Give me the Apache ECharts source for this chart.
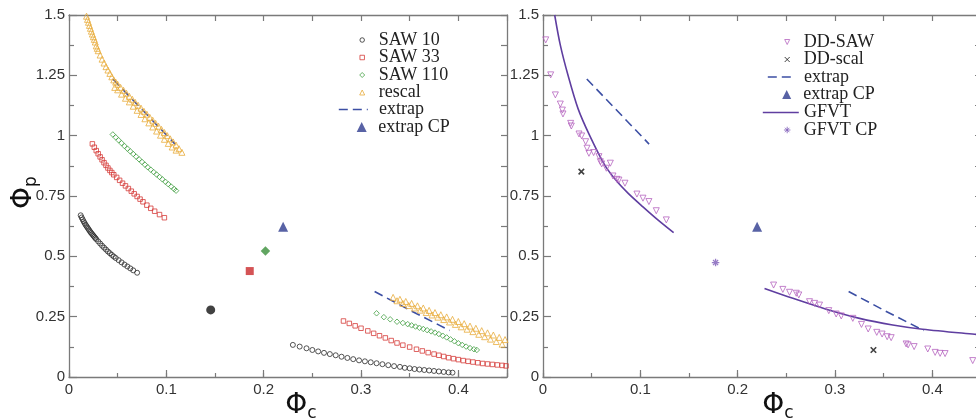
<!DOCTYPE html>
<html><head><meta charset="utf-8">
<script src="https://cdn.jsdelivr.net/npm/echarts@6/dist/echarts.min.js"></script>
<style>html,body{margin:0;padding:0;background:#fff}#c{width:976px;height:419px}</style>
</head><body><div id="c"></div>
<script>
// ---------------- data ----------------
const xTickLabels = ['0', '0.1', '0.2', '0.3', '0.4'];
const yTickLabels = ['0', '0.25', '0.5', '0.75', '1', '1.25', '1.5'];

const saw10A = [[0.012,0.670],[0.013,0.661],[0.014,0.653],[0.015,0.645],[0.016,0.638],[0.017,0.631],[0.018,0.625],[0.019,0.619],[0.020,0.613],[0.021,0.607],[0.022,0.601],[0.023,0.596],[0.024,0.591],[0.025,0.586],[0.026,0.581],[0.027,0.576],[0.028,0.571],[0.030,0.562],[0.032,0.553],[0.034,0.544],[0.036,0.536],[0.038,0.528],[0.040,0.520],[0.042,0.513],[0.044,0.506],[0.046,0.499],[0.048,0.493],[0.051,0.484],[0.054,0.475],[0.057,0.466],[0.060,0.458],[0.063,0.450],[0.066,0.442],[0.070,0.432]];
const saw10B = [[0.230,0.133],[0.237,0.126],[0.244,0.119],[0.250,0.112],[0.256,0.106],[0.262,0.100],[0.268,0.095],[0.274,0.090],[0.280,0.084],[0.286,0.079],[0.292,0.074],[0.298,0.069],[0.304,0.065],[0.310,0.061],[0.316,0.057],[0.322,0.053],[0.328,0.049],[0.334,0.045],[0.340,0.042],[0.345,0.038],[0.350,0.036],[0.355,0.033],[0.360,0.031],[0.365,0.029],[0.370,0.027],[0.375,0.025],[0.380,0.023],[0.385,0.021],[0.390,0.019],[0.394,0.018]];
const saw33A = [[0.024,0.966],[0.026,0.952],[0.028,0.938],[0.030,0.925],[0.032,0.912],[0.034,0.900],[0.036,0.888],[0.038,0.877],[0.040,0.866],[0.042,0.856],[0.044,0.847],[0.046,0.838],[0.049,0.827],[0.052,0.815],[0.055,0.803],[0.058,0.792],[0.061,0.781],[0.064,0.770],[0.067,0.759],[0.070,0.748],[0.073,0.737],[0.076,0.726],[0.080,0.712],[0.084,0.699],[0.088,0.687],[0.093,0.673],[0.098,0.660]];
const saw33B = [[0.282,0.232],[0.288,0.222],[0.294,0.212],[0.300,0.202],[0.307,0.191],[0.313,0.181],[0.319,0.171],[0.325,0.162],[0.331,0.151],[0.337,0.141],[0.343,0.132],[0.350,0.124],[0.357,0.115],[0.363,0.108],[0.369,0.101],[0.375,0.095],[0.380,0.090],[0.385,0.085],[0.390,0.080],[0.395,0.076],[0.400,0.072],[0.405,0.068],[0.410,0.065],[0.415,0.062],[0.420,0.059],[0.425,0.056],[0.430,0.054],[0.435,0.052],[0.440,0.050],[0.445,0.048],[0.449,0.046]];
const saw110A = [[0.045,1.005],[0.048,0.993],[0.051,0.981],[0.054,0.969],[0.057,0.957],[0.060,0.946],[0.063,0.935],[0.066,0.924],[0.069,0.913],[0.072,0.902],[0.075,0.891],[0.078,0.880],[0.081,0.869],[0.084,0.859],[0.087,0.849],[0.090,0.839],[0.093,0.829],[0.096,0.819],[0.099,0.809],[0.102,0.799],[0.105,0.789],[0.108,0.779],[0.110,0.772]];
const saw110B = [[0.316,0.264],[0.3235,0.248],[0.330,0.239],[0.337,0.229],[0.343,0.224],[0.348,0.219],[0.352,0.214],[0.356,0.209],[0.360,0.204],[0.364,0.199],[0.368,0.194],[0.372,0.189],[0.376,0.184],[0.380,0.178],[0.384,0.171],[0.388,0.164],[0.392,0.156],[0.396,0.148],[0.400,0.140],[0.404,0.133],[0.408,0.126],[0.412,0.120],[0.416,0.115],[0.419,0.112]];
const rescalA = [[0.018,1.495],[0.019,1.482],[0.020,1.470],[0.021,1.457],[0.022,1.445],[0.023,1.433],[0.024,1.421],[0.025,1.410],[0.026,1.399],[0.027,1.388],[0.028,1.372],[0.029,1.362],[0.030,1.352],[0.032,1.334],[0.034,1.317],[0.036,1.301],[0.038,1.286],[0.040,1.272],[0.042,1.258],[0.044,1.244],[0.046,1.231],[0.048,1.222],[0.050,1.213],[0.053,1.200],[0.056,1.188],[0.059,1.176],[0.062,1.163],[0.065,1.151],[0.068,1.138],[0.071,1.126],[0.074,1.114],[0.077,1.101],[0.080,1.089],[0.083,1.076],[0.086,1.064],[0.089,1.051],[0.092,1.039],[0.095,1.026],[0.098,1.013],[0.101,1.000],[0.104,0.987],[0.107,0.974],[0.110,0.961],[0.113,0.946],[0.116,0.931],
  [0.047,1.200],[0.050,1.190],[0.054,1.172],[0.058,1.155],[0.062,1.140],[0.066,1.122],[0.070,1.105],[0.074,1.088],[0.078,1.070],[0.082,1.053],[0.086,1.036],[0.090,1.019],[0.094,1.002],[0.098,0.985],[0.102,0.968],[0.106,0.953],[0.110,0.940]];
const rescalB = [[0.333,0.330],[0.337,0.316],[0.340,0.322],[0.343,0.305],[0.346,0.313],[0.349,0.296],[0.352,0.305],[0.355,0.286],[0.358,0.295],[0.361,0.277],[0.364,0.286],[0.367,0.267],[0.370,0.276],[0.373,0.257],[0.376,0.267],[0.379,0.248],[0.382,0.258],[0.385,0.238],[0.388,0.249],[0.391,0.228],[0.394,0.239],[0.397,0.218],[0.400,0.230],[0.403,0.208],[0.406,0.221],[0.409,0.198],[0.412,0.211],[0.415,0.188],[0.418,0.202],[0.421,0.177],[0.424,0.192],[0.427,0.167],[0.430,0.183],[0.433,0.157],[0.436,0.174],[0.439,0.147],[0.442,0.164],[0.445,0.136],[0.448,0.155]];
const extrapA = [[0.045,1.235],[0.077,1.100],[0.109,0.965]];
const extrapB = [[0.314,0.354],[0.352,0.273],[0.391,0.193]];
const extrapCP = [[0.220,0.623]];
const saw10CP = [[0.1456,0.278]];
const saw33CP = [[0.1857,0.439]];
const saw110CP = [[0.2018,0.522]];

const ddSaw = [[0.0028,1.397],[0.0079,1.252],[0.0127,1.169],[0.0178,1.131],[0.0199,1.106],[0.0205,1.090],[0.0284,1.051],[0.0291,1.040],[0.0370,1.007],[0.0397,0.999],[0.0438,0.975],[0.0452,0.948],[0.0472,0.927],[0.0520,0.930],[0.0575,0.913],[0.0589,0.892],[0.0603,0.883],[0.0651,0.865],[0.0692,0.886],[0.0719,0.833],[0.0760,0.819],[0.0780,0.816],[0.0842,0.803],[0.0965,0.758],[0.1027,0.741],[0.1088,0.727],[0.1164,0.689],[0.1267,0.651],
  [0.2369,0.381],[0.2464,0.363],[0.2533,0.351],[0.2602,0.347],[0.2628,0.340],[0.2738,0.312],[0.2790,0.305],[0.2841,0.298],[0.2936,0.275],[0.3012,0.261],[0.3064,0.253],[0.3183,0.243],[0.3272,0.218],[0.3341,0.199],[0.3429,0.185],[0.3484,0.178],[0.3536,0.167],[0.3577,0.163],[0.3731,0.137],[0.3751,0.133],[0.3813,0.126],[0.3953,0.116],[0.4029,0.102],[0.4080,0.098],[0.4131,0.097],[0.4415,0.068]];
const ddScal = [[0.0394,0.851],[0.3395,0.112]];
const gfvtA = [[0.012,1.500],[0.0178,1.375],[0.0257,1.250],[0.036,1.112],[0.048,1.000],[0.0633,0.879],[0.075,0.815],[0.0873,0.762],[0.1027,0.705],[0.118,0.651],[0.1342,0.598]];
const gfvtB = [[0.2276,0.367],[0.2567,0.326],[0.291,0.281],[0.3252,0.243],[0.3593,0.2155],[0.390,0.198],[0.4435,0.177],[0.450,0.175]];
const gfvtCP = [[0.1773,0.474]];

// ---------------- styling ----------------
const AX = '#7a7a7a';
const C = {saw10:'#2a2a2a', saw33:'#d63c3a', saw110:'#45a045', rescal:'#e9ad3c', extrap:'#3c4fa4', extrapCP:'#2e3b8e', dd:'#b564bf', gfvt:'#5f3ea0', gfvtCP:'#7d5bb8'};
const PATH_X = 'path://M0,0L10,10M10,0L0,10';
const PATH_AST = 'path://M5,0L5,10M0,5L10,5M1.6,1.6L8.4,8.4M8.4,1.6L1.6,8.4';
const PATH_TRI_DOWN = 'path://M0,0L10,0L5,10Z';
const labelFont = {fontFamily:'Liberation Sans', fontSize:15, color:'#333'};
const richName = {
  a:{fontFamily:'DejaVu Sans', fontSize:28, lineHeight:32, color:'#111'},
  b:{fontFamily:'DejaVu Sans', fontSize:17, lineHeight:24, verticalAlign:'bottom', color:'#111'}
};
const fmtX = v => { const r = Math.round(v*10); return Math.abs(v*10-r) < 1e-6 ? xTickLabels[r] : ''; };
const fmtY = v => { const r = Math.round(v*4); return Math.abs(v*4-r) < 1e-6 ? yTickLabels[r] : ''; };

function xAxes(g, namePad){
  const base = {type:'value', gridIndex:g, min:0, max:0.45, splitLine:{show:false},
    axisLine:{show:true, onZero:false, lineStyle:{color:AX, width:1.3}}};
  return [
    Object.assign({}, base, {position:'bottom', interval:0.1,
      axisTick:{inside:true, length:7, lineStyle:{color:AX, width:1.2}},
      axisLabel:Object.assign({margin:5, formatter:fmtX}, labelFont),
      name:'{a|Φ}{b|c}', nameLocation:'middle', nameGap:13, nameMoveOverlap:false,
      nameTextStyle:{padding:[0,0,0,namePad], rich:richName}}),
    Object.assign({}, base, {position:'bottom', interval:0.05, axisLine:{show:false},
      axisTick:{inside:true, length:4, lineStyle:{color:AX, width:1.2}}, axisLabel:{show:false}}),
    Object.assign({}, base, {position:'top', interval:0.05,
      axisTick:{inside:true, length:6, lineStyle:{color:AX, width:1.2}}, axisLabel:{show:false}})
  ];
}
function yAxes(g, withName){
  const base = {type:'value', gridIndex:g, min:0, max:1.5, splitLine:{show:false},
    axisLine:{show:true, onZero:false, lineStyle:{color:AX, width:1.3}}};
  const left = Object.assign({}, base, {position:'left', interval:0.25,
    axisTick:{inside:true, length:8, lineStyle:{color:AX, width:1.2}},
    minorTick:{show:true, splitNumber:2, length:5, lineStyle:{color:AX, width:1.2}},
    axisLabel:Object.assign({margin:4, formatter:fmtY}, labelFont)});
  if (withName) Object.assign(left, {name:'{a|Φ}{b|p}', nameLocation:'middle', nameRotate:90, nameGap:29,
    nameMoveOverlap:false, nameTextStyle:{padding:[0,0,0,7], rich:richName}});
  const right = Object.assign({}, base, {position:'right', interval:0.125,
    axisTick:{inside:true, length:6, lineStyle:{color:AX, width:1.2}}, axisLabel:{show:false}});
  return [left, right];
}

function scatter(name, data, g, symbol, size, color, filled, extra){
  return Object.assign({type:'scatter', name, data, xAxisIndex:g*3, yAxisIndex:g*2, symbol, symbolSize:size,
    itemStyle: filled ? {color, borderWidth:0} : {color:'rgba(0,0,0,0)', borderColor:color, borderWidth:1},
    emphasis:{disabled:true}, z:3}, extra||{});
}
function line(name, data, g, color, dashed, width, extra){
  return Object.assign({type:'line', name, data, xAxisIndex:g*3, yAxisIndex:g*2, symbol:'none', showSymbol:false,
    lineStyle:{color, width, type: dashed ? [9,5] : 'solid'}, itemStyle:{color},
    emphasis:{disabled:true}, z:2}, extra||{});
}

const series = [
  scatter('SAW 10', saw10A.concat(saw10B), 0, 'circle', 5, C.saw10, false),
  scatter('SAW 33', saw33A.concat(saw33B), 0, 'rect', 4.5, C.saw33, false),
  scatter('SAW 110', saw110A.concat(saw110B), 0, 'diamond', 5.5, C.saw110, false),
  scatter('rescal', rescalA.concat(rescalB), 0, 'triangle', 6, C.rescal, false),
  line('extrap', extrapA, 0, C.extrap, true, 1.6),
  line('extrap', extrapB, 0, C.extrap, true, 1.6),
  scatter('extrap CP', extrapCP, 0, 'triangle', 10, C.extrapCP, true),
  scatter('SAW 10 CP', saw10CP, 0, 'circle', 9, '#111', true),
  scatter('SAW 33 CP', saw33CP, 0, 'rect', 8, '#c9282a', true),
  scatter('SAW 110 CP', saw110CP, 0, 'diamond', 9.5, '#3a8e3a', true),

  scatter('DD-SAW', ddSaw, 1, PATH_TRI_DOWN, 6, C.dd, false),
  scatter('DD-scal', ddScal, 1, PATH_X, 5.5, '#111', false, {itemStyle:{color:'rgba(0,0,0,0)', borderColor:'#111', borderWidth:1.6}}),
  line('extrap', extrapA, 1, C.extrap, true, 1.6),
  line('extrap', extrapB, 1, C.extrap, true, 1.6),
  scatter('extrap CP', extrapCP, 1, 'triangle', 10, C.extrapCP, true),
  line('GFVT', gfvtA, 1, C.gfvt, false, 1.6, {smooth:0.3}),
  line('GFVT', gfvtB, 1, C.gfvt, false, 1.6, {smooth:0.3}),
  scatter('GFVT CP', gfvtCP, 1, PATH_AST, 7.5, C.gfvtCP, false, {itemStyle:{color:'rgba(0,0,0,0)', borderColor:C.gfvtCP, borderWidth:1.3}})
];

// legend rows: [name, kind, x (symbol centre or line start), row centre y, size or line width, text start x, line width px]
const legendRows = [
  ['SAW 10','s',361.7,39.5,4.5,378.3],
  ['SAW 33','s',361.7,57,4.5,378.3],
  ['SAW 110','s',361.7,74.5,5,378.3],
  ['rescal','s',361.7,92,5,378.3],
  ['extrap','l',338,109,29,378.3,1.6],
  ['extrap CP','s',361.7,126.5,10,378.3],
  ['DD-SAW','s',786.7,41.5,5,803.3],
  ['DD-scal','s',786.7,59,5,803.3],
  ['extrap','l',767,76.5,28,803.3,1.6],
  ['extrap CP','s',786.7,94,9,803.3],
  ['GFVT','l',762,112,36,803.3,1.6],
  ['GFVT CP','s',786.7,129.5,6.5,803.3]
];
const legendText = {fontFamily:'Liberation Serif', fontSize:18, color:'#222'};
const HALF_TEXT = 8.5;
const legends = legendRows.map(r => {
  const [name, kind, x, y, s, tx, lw] = r;
  if (kind === 's') {
    return {data:[name], orient:'vertical', selectedMode:false, left:x - s/2, top:y - HALF_TEXT,
      itemWidth:s, itemHeight:s, padding:0, itemStyle:{borderWidth:1},
      textStyle:Object.assign({padding:[0,0,0, tx - (x + s/2 + 5)]}, legendText)};
  }
  return {data:[name], orient:'vertical', selectedMode:false, left:x, top:y - HALF_TEXT, itemWidth:s, itemHeight:2, padding:0,
    itemStyle:{opacity:0}, lineStyle:{width:lw},
    textStyle:Object.assign({padding:[0,0,0, tx - (x + s + 5)]}, legendText)};
});

const chart = echarts.init(document.getElementById('c'), null, {renderer:'canvas'});
chart.setOption({
  animation:false,
  backgroundColor:'#fff',
  grid:[
    {left:69, top:15, width:438, height:362, outerBoundsMode:'none', containLabel:false},
    {left:543, top:15, width:438, height:362, outerBoundsMode:'none', containLabel:false}
  ],
  xAxis: xAxes(0, 26).concat(xAxes(1, 32)),
  yAxis: yAxes(0, true).concat(yAxes(1, false)),
  legend: legends,
  series
});
</script></body></html>
